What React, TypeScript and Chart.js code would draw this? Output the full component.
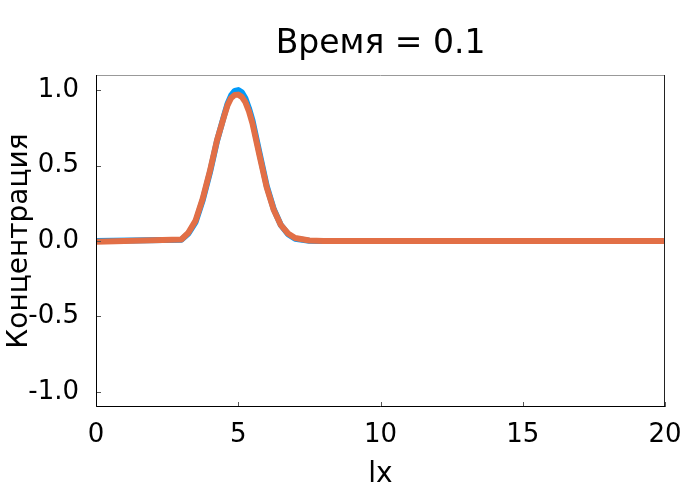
import { useEffect, useRef } from "react";
import { Chart, registerables } from "chart.js";

Chart.register(...registerables);

const titleText = "Время = 0.1";
const xLabel = "lx";
const yLabel = "Концентрация";

const xs = [0, 3, 3.25, 3.5, 3.75, 4, 4.25, 4.5, 4.625, 4.75, 4.875, 5, 5.125, 5.25, 5.375, 5.5, 5.75, 6, 6.25, 6.5, 6.75, 7, 7.5, 8, 20];
const exactValues = [0, 0.008, 0.05, 0.125, 0.27, 0.45, 0.66, 0.83, 0.91, 0.965, 0.995, 1.0, 0.985, 0.945, 0.88, 0.8, 0.58, 0.365, 0.21, 0.105, 0.045, 0.015, 0.002, 0, 0];
const numericValues = [-0.005, 0.01, 0.056, 0.135, 0.28, 0.46, 0.665, 0.825, 0.9, 0.948, 0.968, 0.97, 0.955, 0.92, 0.86, 0.78, 0.565, 0.355, 0.205, 0.105, 0.05, 0.02, 0.003, 0, 0];

const xTicks = [0, 5, 10, 15, 20];
const yTicks = [-1, -0.5, 0, 0.5, 1];

const FONT = "'DejaVu Sans', sans-serif";

const framePlugin = {
  id: "frame",
  afterDraw(chart: any) {
    const { ctx, chartArea } = chart;
    const { left, right, top, bottom } = chartArea;
    const xs_ = chart.scales.x;
    const ys_ = chart.scales.y;
    ctx.save();
    ctx.strokeStyle = "#555";
    ctx.lineWidth = 1;
    ctx.beginPath();
    for (const v of xTicks) {
      const px = Math.round(xs_.getPixelForValue(v)) + 0.5;
      ctx.moveTo(px, bottom);
      ctx.lineTo(px, bottom - 5);
    }
    for (const v of yTicks) {
      const py = Math.round(ys_.getPixelForValue(v)) + 0.5;
      ctx.moveTo(left, py);
      ctx.lineTo(left + 5, py);
    }
    ctx.stroke();
    ctx.strokeStyle = "#999";
    ctx.beginPath();
    ctx.moveTo(left, top + 0.5);
    ctx.lineTo(right, top + 0.5);
    ctx.stroke();
    ctx.strokeStyle = "#222";
    ctx.beginPath();
    ctx.moveTo(right - 0.5, top);
    ctx.lineTo(right - 0.5, bottom);
    ctx.stroke();
    ctx.strokeStyle = "#000";
    ctx.beginPath();
    ctx.moveTo(left + 0.5, top);
    ctx.lineTo(left + 0.5, bottom - 0.5);
    ctx.lineTo(right, bottom - 0.5);
    ctx.stroke();
    ctx.fillStyle = "#000";
    ctx.textAlign = "center";
    ctx.textBaseline = "alphabetic";
    const cx = (left + right) / 2;
    ctx.font = `33px ${FONT}`;
    ctx.fillText(titleText, cx, 53);
    ctx.font = `28px ${FONT}`;
    ctx.fillText(xLabel, cx, 482);
    ctx.save();
    ctx.translate(27, (top + bottom) / 2);
    ctx.rotate(-Math.PI / 2);
    ctx.fillText(yLabel, 0, 0);
    ctx.restore();
    ctx.restore();
  },
};

export default function App() {
  const ref = useRef<HTMLCanvasElement | null>(null);
  useEffect(() => {
    document.body.style.margin = "0";
    const canvas = ref.current!;
    const chart = new Chart(canvas, {
      type: "line",
      data: {
        datasets: [
          {
            label: "exact",
            data: xs.map((x, i) => ({ x, y: exactValues[i] })),
            borderColor: "#009AFA",
            borderWidth: 6,
            pointRadius: 0,
            tension: 0,
            order: 2,
            borderJoinStyle: "round",
            borderCapStyle: "round",
          },
          {
            label: "numeric",
            data: xs.map((x, i) => ({ x, y: numericValues[i] })),
            borderColor: "#E26F46",
            borderWidth: 6,
            pointRadius: 0,
            tension: 0,
            order: 1,
            borderJoinStyle: "round",
            borderCapStyle: "round",
          },
        ],
      },
      options: {
        responsive: false,
        animation: false,
        events: [],
        layout: { padding: { top: 75, right: 35, left: 0, bottom: 0 } },
        plugins: {
          legend: { display: false },
          title: { display: false },
          tooltip: { enabled: false },
        },
        scales: {
          x: {
            type: "linear",
            min: 0,
            max: 20,
            afterBuildTicks: (s: any) => {
              s.ticks = xTicks.map((v) => ({ value: v }));
            },
            afterFit: (s: any) => {
              s.height = 93;
            },
            grid: { display: false },
            border: { display: false },
            ticks: {
              font: { family: FONT, size: 26 },
              color: "#000",
              padding: 5,
              maxRotation: 0,
              autoSkip: false,
              callback: (v: any) => String(v),
            },
          },
          y: {
            type: "linear",
            min: -1.1,
            max: 1.1,
            afterBuildTicks: (s: any) => {
              s.ticks = yTicks.map((v) => ({ value: v }));
            },
            afterFit: (s: any) => {
              s.width = 96;
            },
            grid: { display: false },
            border: { display: false },
            ticks: {
              font: { family: FONT, size: 26 },
              color: "#000",
              padding: 9,
              autoSkip: false,
              callback: (v: any) => Number(v).toFixed(1),
            },
          },
        },
      },
      plugins: [framePlugin],
    });
    return () => chart.destroy();
  }, []);
  return <canvas ref={ref} width={700} height={500} style={{ display: "block" }} />;
}
